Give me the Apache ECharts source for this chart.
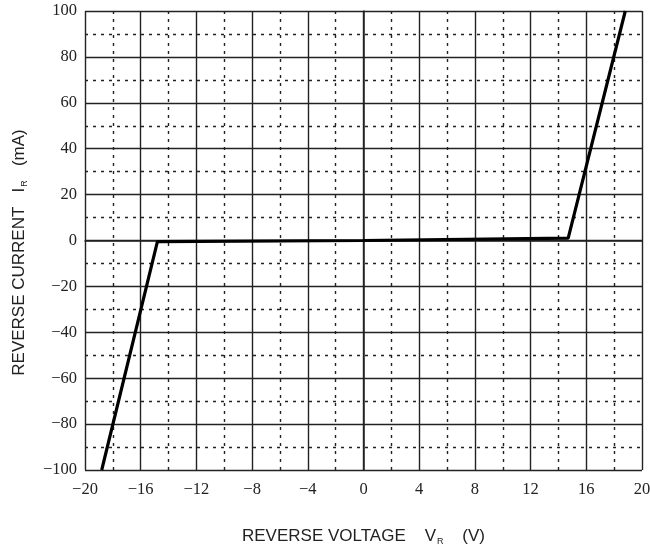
<!DOCTYPE html>
<html><head><meta charset="utf-8">
<script src="https://cdn.jsdelivr.net/npm/echarts@6/dist/echarts.min.js"></script>
<style>html,body{margin:0;padding:0;background:#fff}#c{width:650px;height:551px}</style>
</head><body><div id="c"></div>
<script>
var voltage = [-18.8, -14.8, 0, 14.7, 18.8];
var current = [-100, -0.5, 0, 1, 100];
var xTicks = [-20, -16, -12, -8, -4, 0, 4, 8, 12, 16, 20];
var yTicks = [-100, -80, -60, -40, -20, 0, 20, 40, 60, 80, 100];

var data = voltage.map(function (v, i) { return [v, current[i]]; });
function fmt(v) { return String(v).replace('-', '\u2212'); }
var tickFont = { fontFamily: 'Liberation Serif', fontSize: 16.5, color: '#222' };
var chart = echarts.init(document.getElementById('c'));
chart.setOption({
  animation: false,
  grid: { left: 85, right: 8, top: 11, bottom: 81, outerBoundsMode: 'none', containLabel: false },
  xAxis: {
    type: 'value', min: xTicks[0], max: xTicks[xTicks.length - 1], interval: 4,
    axisLine: { show: true, lineStyle: { color: '#222', width: 1.5 } },
    axisTick: { show: false },
    axisLabel: Object.assign({ formatter: fmt, margin: 11 }, tickFont),
    splitLine: { show: true, lineStyle: { color: '#222', width: 1.4 } },
    minorTick: { show: false, splitNumber: 2 },
    minorSplitLine: { show: true, lineStyle: { color: '#222', width: 1.4, type: [3, 5] } },
    name: '{a|REVERSE VOLTAGE    V}{s|R}{a|    (V)}',
    nameLocation: 'middle', nameGap: 56,
    nameTextStyle: { rich: {
      a: { fontFamily: 'Liberation Sans', fontSize: 17, color: '#222', lineHeight: 20 },
      s: { fontFamily: 'Liberation Sans', fontSize: 9, color: '#222', lineHeight: 12, padding: [11, 0, 0, 1] }
    } }
  },
  yAxis: {
    type: 'value', min: yTicks[0], max: yTicks[yTicks.length - 1], interval: 20,
    axisLine: { show: true, lineStyle: { color: '#222', width: 1.5 } },
    axisTick: { show: false },
    axisLabel: Object.assign({ formatter: fmt, margin: 8 }, tickFont),
    splitLine: { show: true, lineStyle: { color: '#222', width: 1.4 } },
    minorTick: { show: false, splitNumber: 2 },
    minorSplitLine: { show: true, lineStyle: { color: '#222', width: 1.4, type: [3, 5] } },
    name: '{a|REVERSE CURRENT   I}{s|R}{a|   (mA)}',
    nameLocation: 'middle', nameGap: 56, nameRotate: 90,
    nameTextStyle: { padding: [0, 24, 0, 0], rich: {
      a: { fontFamily: 'Liberation Sans', fontSize: 17, color: '#222', lineHeight: 20 },
      s: { fontFamily: 'Liberation Sans', fontSize: 9, color: '#222', lineHeight: 12, padding: [11, 0, 0, 1] }
    } }
  },
  series: [{
    type: 'line', data: data, symbol: 'none',
    lineStyle: { color: '#000', width: 3.2 }, z: 5
  }]
});
</script></body></html>
